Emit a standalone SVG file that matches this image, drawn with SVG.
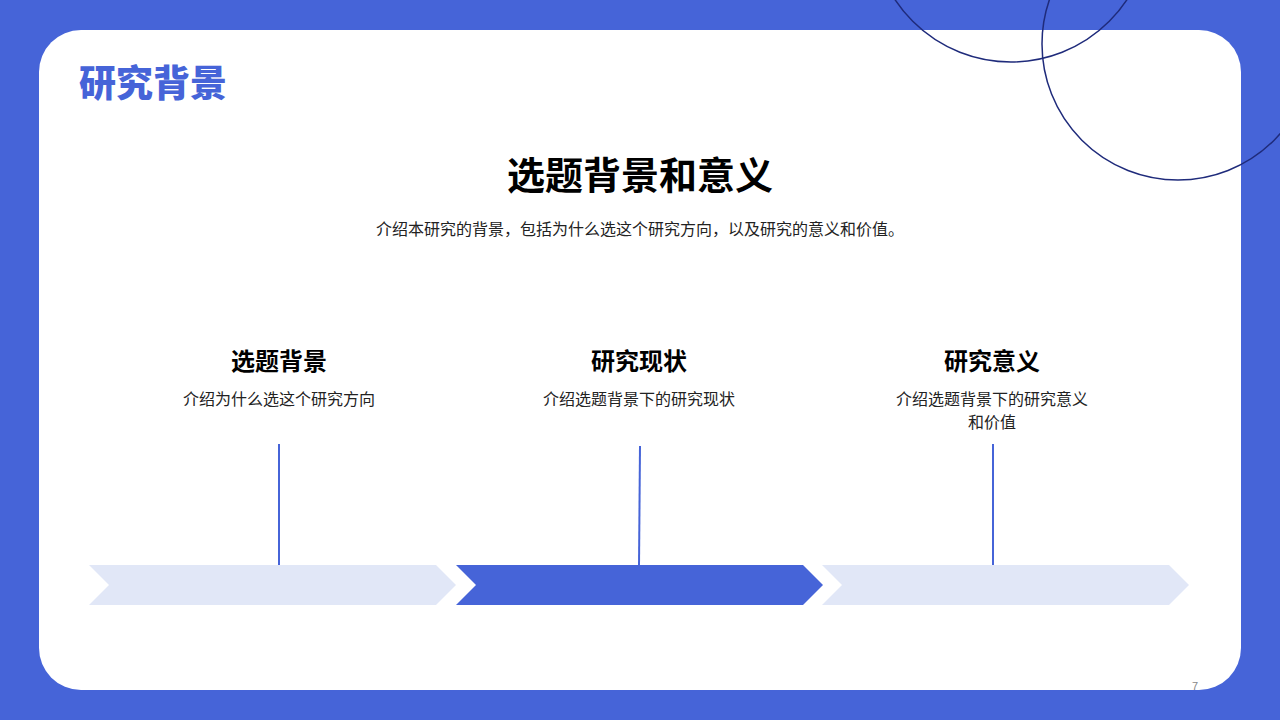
<svg xmlns="http://www.w3.org/2000/svg" width="1280" height="720" viewBox="0 0 1280 720">
<style>
.cjk{font-family:"Noto Sans CJK SC","Noto Sans",sans-serif}
.h{font-size:24px;font-weight:700;fill:#000;text-anchor:middle}
.d{font-size:16px;fill:#222;text-anchor:middle}
.light{fill:#E1E7F7}
.dark{fill:#4664D8}
.conn{stroke:#4664D8;stroke-width:2;fill:none}
.ring{stroke:#1F2B7B;stroke-width:1.5;fill:none}
</style>
<rect x="0" y="0" width="1280" height="720" fill="#4664D8"/>
<rect x="39" y="30" width="1202" height="660" rx="42" ry="42" fill="#FFFFFF"/>
<g id="rings">
<circle class="ring" cx="1011" cy="-77" r="139"/>
<circle class="ring" cx="1178" cy="44" r="136"/>
</g>
<text x="79" y="97" class="cjk" font-size="37" font-weight="900" fill="#4664D8">研究背景</text>
<text x="640" y="189" class="cjk" font-size="38" font-weight="700" fill="#000" text-anchor="middle">选题背景和意义</text>
<text x="640" y="235" class="cjk" font-size="16" fill="#222" text-anchor="middle">介绍本研究的背景，包括为什么选这个研究方向，以及研究的意义和价值。</text>
<g id="connectors">
<line class="conn" x1="279" y1="444" x2="279" y2="566"/>
<line class="conn" x1="640" y1="446" x2="639" y2="566"/>
<line class="conn" x1="993" y1="444" x2="993" y2="566"/>
</g>
<g id="step1">
<polygon class="light" points="89,565 436,565 456,585 436,605 89,605 109,585"/>
<text x="279" y="370" class="cjk h">选题背景</text>
<text x="279" y="405" class="cjk d">介绍为什么选这个研究方向</text>
</g>
<g id="step2">
<polygon class="dark" points="456,565 803,565 823,585 803,605 456,605 476,585"/>
<text x="639" y="370" class="cjk h">研究现状</text>
<text x="639" y="405" class="cjk d">介绍选题背景下的研究现状</text>
</g>
<g id="step3">
<polygon class="light" points="822,565 1169,565 1189,585 1169,605 822,605 842,585"/>
<text x="992" y="370" class="cjk h">研究意义</text>
<text x="992" y="405" class="cjk d">介绍选题背景下的研究意义</text>
<text x="992" y="428" class="cjk d">和价值</text>
</g>
<text x="1195" y="690" font-family="Liberation Sans, sans-serif" font-size="11" fill="#888" text-anchor="middle">7</text>
</svg>
